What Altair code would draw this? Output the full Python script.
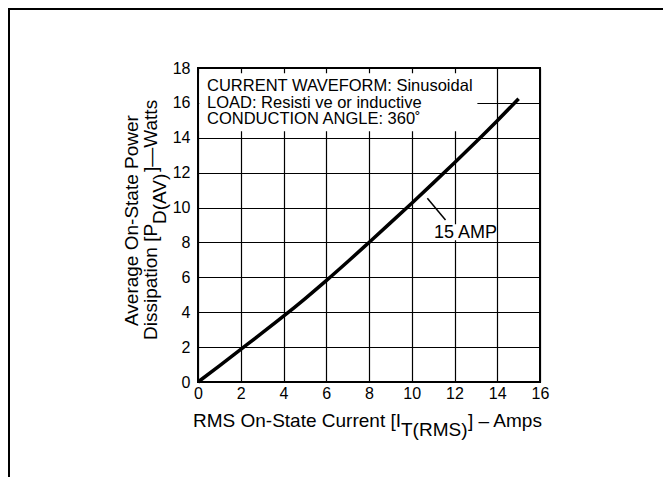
import altair as alt
import pandas as pd

# ---- data ----
current = [0, 1, 2, 3, 4, 5, 6, 7, 8, 9, 10, 11, 12, 13, 14, 15]
power = [0, 0.93, 1.87, 2.81, 3.77, 4.77, 5.81, 6.89, 8.0, 9.12, 10.25, 11.4, 12.57, 13.76, 14.98, 16.24]

x_ticks = [0, 2, 4, 6, 8, 10, 12, 14, 16]
y_ticks = [0, 2, 4, 6, 8, 10, 12, 14, 16, 18]

note_lines = ["CURRENT WAVEFORM: Sinusoidal", "LOAD: Resisti ve or inductive", "CONDUCTION ANGLE: 360˚"]
note_x = [0.42, 0.42, 0.42]
note_y = [16.7, 15.73, 14.78]

# white areas that hide the grid behind the texts
box_x = [0.06, 11.0]
box_x2 = [13.07, 13.9]
box_y = [14.38, 8.12]
box_y2 = [17.7, 9.05]

curve_label = ["15 AMP"]
curve_label_x = [11.04]
curve_label_y = [8.23]
leader_x, leader_y, leader_x2, leader_y2 = [10.73], [10.53], [11.58], [9.29]

FONT = "Liberation Sans, Arial, Helvetica, sans-serif"
W, H = 342, 314


def X(f):
    return alt.X(f, type="quantitative",
                 scale=alt.Scale(domain=[0, 16], nice=False, zero=False),
                 axis=alt.Axis(values=x_ticks, title=None, grid=True, ticks=False, domain=False,
                               labelFlush=False, labelPadding=3, format="d"))


def Y(f):
    return alt.Y(f, type="quantitative",
                 scale=alt.Scale(domain=[0, 18], nice=False, zero=False),
                 axis=alt.Axis(values=y_ticks, title=None, grid=True, ticks=False, domain=False,
                               labelFlush=False, labelPadding=8, format="d"))


curve_df = pd.DataFrame({"current": current, "power": power})
box_df = pd.DataFrame({"bx": box_x, "bx2": box_x2, "by": box_y, "by2": box_y2})
note_df = pd.DataFrame({"nx": note_x, "ny": note_y, "txt": note_lines})
lab_df = pd.DataFrame({"lx": curve_label_x, "ly": curve_label_y, "txt": curve_label})
lead_df = pd.DataFrame({"ax": leader_x, "ay": leader_y, "ax2": leader_x2, "ay2": leader_y2})
one = pd.DataFrame({"k": [0]})

box = alt.Chart(box_df).mark_rect(fill="white", stroke=None).encode(
    x=X("bx"), x2="bx2", y=Y("by"), y2="by2")

curve = alt.Chart(curve_df).mark_line(color="black", strokeWidth=3.5, interpolate="monotone").encode(
    x=X("current"), y=Y("power"))

notes = alt.Chart(note_df).mark_text(align="left", baseline="alphabetic", font=FONT, fontSize=16.5,
                                     color="black").encode(x=X("nx"), y=Y("ny"), text="txt:N")

label = alt.Chart(lab_df).mark_text(align="left", baseline="alphabetic", font=FONT, fontSize=18,
                                    color="black").encode(x=X("lx"), y=Y("ly"), text="txt:N")

leader = alt.Chart(lead_df).mark_rule(color="black", strokeWidth=1.5).encode(
    x=X("ax"), y=Y("ay"), x2="ax2", y2="ay2")


def ptext(s, x, y, angle=0):
    kw = dict(align="left", baseline="alphabetic", font=FONT, fontSize=19, color="black")
    if angle:
        kw["angle"] = angle
    return alt.Chart(pd.DataFrame({"t": [s]})).mark_text(**kw).encode(
        x=alt.value(x), y=alt.value(y), text="t:N")


# x-axis title with subscript
xt1 = ptext("RMS On-State Current [I", -5, 359)
xt2 = ptext("T(RMS)", 203, 368)
xt3 = ptext("] – Amps", 270, 359)

# y-axis title (two lines) with subscript
yt1 = ptext("Average On-State Power", -60, 258, 270)
yt2 = ptext("Dissipation [P", -41, 272, 270)
yt3 = ptext("D(AV)", -32, 156, 270)
yt4 = ptext("]—Watts", -41, 104, 270)

# scan frame lines
frame_top = alt.Chart(one).mark_rule(color="black", strokeWidth=2).encode(
    x=alt.value(-190), x2=alt.value(465), y=alt.value(-59))
frame_left = alt.Chart(one).mark_rule(color="black", strokeWidth=2).encode(
    x=alt.value(-189), y=alt.value(-59), y2=alt.value(409))

chart = alt.layer(box, curve, leader, notes, label, xt1, xt2, xt3, yt1, yt2, yt3, yt4,
                  frame_top, frame_left).properties(
    width=W, height=H,
    autosize=alt.AutoSizeParams(type="none"),
    padding={"left": 190, "top": 60, "right": 123, "bottom": 95},
    background="white",
).configure_view(
    stroke="black", strokeWidth=2
).configure_axis(
    gridColor="black", gridWidth=1.2, gridOpacity=1,
    labelFont=FONT, labelFontSize=16, labelColor="black"
)

chart.save("out.html", embed_options={"renderer": "svg", "actions": False})
